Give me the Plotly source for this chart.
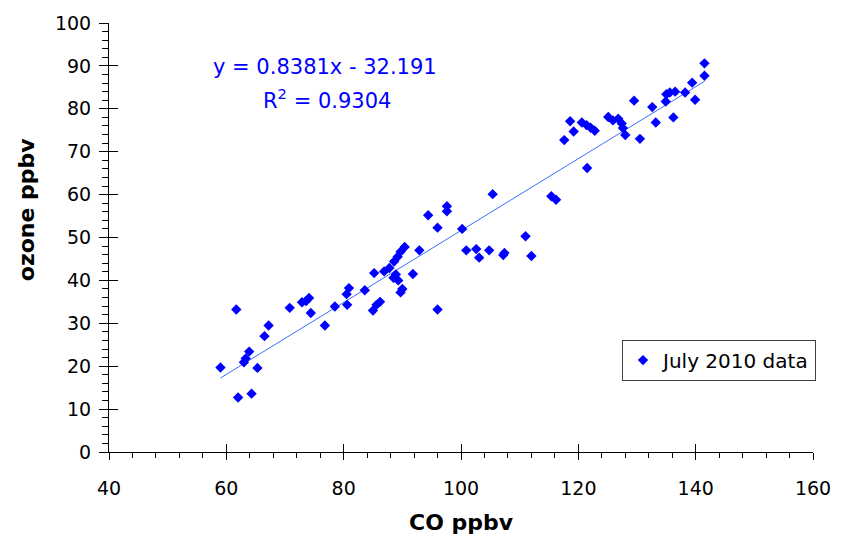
import plotly.graph_objects as go

# ---- data ----
co_ppbv = [59.0, 61.7, 62.0, 64.3, 63.0, 63.3, 63.9, 65.3, 66.5, 67.2,
           70.8, 72.9, 73.6, 74.1, 74.4, 76.8, 78.5, 80.6, 80.5, 80.9,
           83.6, 85.2, 85.0, 85.6, 86.2, 86.9, 87.8, 88.6, 89.2, 89.7,
           90.4, 88.9, 89.3, 88.5, 90.0, 89.7, 91.8, 92.9, 96.0, 94.4,
           96.0, 97.6, 97.6, 100.2, 100.9, 102.6, 103.1, 104.8, 105.4, 107.4,
           107.2, 111.0, 112.0, 115.4, 116.2, 121.5, 117.6, 119.2, 118.6, 120.6,
           121.4, 122.1, 122.8, 125.1, 125.9, 126.8, 127.4, 127.6, 128.0, 129.5,
           130.5, 132.6, 133.2, 134.9, 135.0, 135.6, 136.5, 136.2, 138.2, 139.4,
           139.9, 141.5, 141.5]
ozone_ppbv = [19.7, 33.2, 12.7, 13.6, 20.9, 21.8, 23.4, 19.6, 27.0, 29.5,
              33.6, 34.9, 35.2, 35.9, 32.4, 29.5, 33.9, 34.3, 36.8, 38.2,
              37.7, 41.7, 33.0, 34.3, 35.0, 42.1, 42.9, 44.4, 45.5, 46.7,
              47.8, 41.4, 40.0, 40.6, 38.0, 37.2, 41.5, 47.0, 33.2, 55.2,
              52.3, 57.3, 56.1, 52.0, 47.0, 47.3, 45.3, 47.0, 60.1, 46.4,
              45.9, 50.3, 45.7, 59.6, 58.8, 66.2, 72.7, 74.7, 77.1, 76.8,
              76.2, 75.6, 74.9, 78.1, 77.3, 77.7, 76.6, 75.5, 73.9, 81.9,
              73.0, 80.4, 76.8, 81.7, 83.4, 83.8, 84.0, 78.0, 83.8, 86.1,
              82.1, 87.7, 90.6]
series_name = "July 2010 data"
slope = 0.8381
intercept = -32.191
r_squared = 0.9304
x_range = [40, 160]
y_range = [0, 100]
x_title = "CO ppbv"
y_title = "ozone ppbv"

FONT = "DejaVu Sans"

x_fit = [min(co_ppbv), max(co_ppbv)]
y_fit = [slope * v + intercept for v in x_fit]

fig = go.Figure()
fig.add_trace(go.Scatter(
    x=x_fit, y=y_fit, mode="lines", showlegend=False, hoverinfo="skip",
    line=dict(color="rgb(60,110,255)", width=1)))
fig.add_trace(go.Scatter(
    x=co_ppbv, y=ozone_ppbv, mode="markers", name=series_name,
    marker=dict(symbol="diamond", size=8, color="#0000FF", line=dict(width=0))))
# overlay axes to draw the inside half of the crossing major ticks
fig.add_trace(go.Scatter(x=[x_range[0]], y=[y_range[0]], xaxis="x2", yaxis="y2",
                         mode="markers", marker=dict(opacity=0),
                         showlegend=False, hoverinfo="skip"))

axis_common = dict(showgrid=False, zeroline=False, mirror=False,
                   linecolor="black", linewidth=1, tickcolor="black",
                   tickwidth=1)

fig.update_layout(
    width=846, height=548,
    margin=dict(l=109, r=33, t=12, b=96),
    paper_bgcolor="white", plot_bgcolor="white",
    font=dict(family=FONT, size=19, color="black"),
    xaxis=dict(range=x_range, dtick=20, tick0=40, showline=True,
               ticks="outside", ticklen=7, ticklabelstandoff=12,
               minor=dict(ticks="outside", ticklen=5, dtick=4, tickcolor="black"),
               tickfont=dict(family=FONT, size=19, color="black"),
               **axis_common),
    yaxis=dict(range=y_range, dtick=10, tick0=0, showline=True,
               ticks="outside", ticklen=9, ticklabelstandoff=4,
               minor=dict(ticks="outside", ticklen=6, dtick=2, tickcolor="black"),
               tickfont=dict(family=FONT, size=19, color="black"),
               **axis_common),
    xaxis2=dict(range=x_range, dtick=20, tick0=40, overlaying="x", anchor="y2",
                ticks="inside", ticklen=8, showticklabels=False, showline=False,
                showgrid=False, zeroline=False, tickcolor="black"),
    yaxis2=dict(range=y_range, dtick=10, tick0=0, overlaying="y", anchor="x2",
                ticks="inside", ticklen=9, showticklabels=False, showline=False,
                showgrid=False, zeroline=False, tickcolor="black"),
    showlegend=True,
    legend=dict(x=0.7287, y=0.262, xanchor="left", yanchor="top",
                bordercolor="#404040", borderwidth=1, bgcolor="white",
                font=dict(family=FONT, size=20, color="black"),
                itemwidth=30, tracegroupgap=0),
)

fig.add_annotation(text=f"y = {slope}x - {abs(intercept)}", xref="paper", yref="paper",
                   x=0.3068, y=0.8977, xanchor="center", yanchor="middle",
                   showarrow=False, font=dict(family=FONT, size=21, color="#0000FF"))
fig.add_annotation(text=f"R<sup>2</sup> = {r_squared}", xref="paper", yref="paper",
                   x=0.3097, y=0.8227, xanchor="center", yanchor="middle",
                   showarrow=False, font=dict(family=FONT, size=21, color="#0000FF"))
fig.add_annotation(text=f"<b>{x_title}</b>", xref="paper", yref="paper",
                   x=0.5014, y=-0.1636, xanchor="center", yanchor="middle",
                   showarrow=False, font=dict(family=FONT, size=22, color="black"))
fig.add_annotation(text=f"<b>{y_title}</b>", xref="paper", yref="paper",
                   x=-0.1179, y=0.566, xanchor="center", yanchor="middle",
                   textangle=-90, showarrow=False,
                   font=dict(family=FONT, size=22, color="black"))

fig.write_html("out.html")
